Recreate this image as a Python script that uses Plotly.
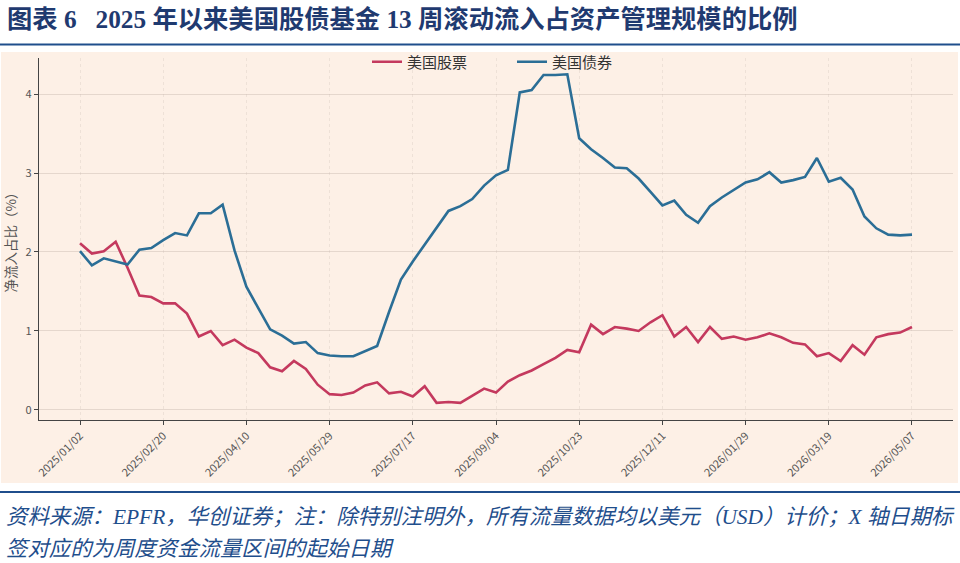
import plotly.graph_objects as go
import pandas as pd

start_date = "2025-01-02"
n_weeks = 71
dates = pd.date_range(start_date, periods=n_weeks, freq="7D")

stocks = [2.11, 1.98, 2.01, 2.13, 1.80, 1.45, 1.43, 1.35, 1.35, 1.22,
          0.93, 1.00, 0.82, 0.89, 0.79, 0.72, 0.54, 0.49, 0.62, 0.52,
          0.32, 0.20, 0.19, 0.22, 0.31, 0.35, 0.21, 0.23, 0.17, 0.30,
          0.09, 0.10, 0.09, 0.18, 0.27, 0.22, 0.36, 0.44, 0.50, 0.58,
          0.66, 0.76, 0.73, 1.08, 0.96, 1.05, 1.03, 1.00, 1.11, 1.20,
          0.93, 1.05, 0.86, 1.05, 0.90, 0.93, 0.89, 0.92, 0.97, 0.92,
          0.85, 0.83, 0.68, 0.72, 0.62, 0.82, 0.70, 0.92, 0.96, 0.98,
          1.05]
bonds = [2.01, 1.83, 1.92, 1.88, 1.84, 2.03, 2.05, 2.15, 2.24, 2.21,
         2.49, 2.49, 2.60, 2.02, 1.56, 1.29, 1.02, 0.94, 0.84, 0.86,
         0.72, 0.69, 0.68, 0.68, 0.75, 0.81, 1.24, 1.65, 1.88, 2.09,
         2.30, 2.52, 2.58, 2.67, 2.84, 2.97, 3.04, 4.02, 4.05, 4.24,
         4.24, 4.25, 3.44, 3.30, 3.19, 3.07, 3.06, 2.93, 2.76, 2.59,
         2.65, 2.47, 2.37, 2.58, 2.69, 2.78, 2.88, 2.92, 3.01, 2.88,
         2.91, 2.95, 3.19, 2.89, 2.94, 2.79, 2.45, 2.30, 2.22, 2.21,
         2.22]

tick_idx = list(range(0, n_weeks, 7))
tick_vals = [dates[i] for i in tick_idx]
tick_text = [d.strftime("%Y/%m/%d") for d in tick_vals]

series_names = ["美国股票", "美国债券"]
colors = ["#C4395E", "#2B6E96"]

title_text = "图表 6   2025 年以来美国股债基金 13 周滚动流入占资产管理规模的比例"
foot1 = "资料来源：EPFR，华创证券；注：除特别注明外，所有流量数据均以美元（USD）计价；X 轴日期标"
foot2 = "签对应的为周度资金流量区间的起始日期"
ytitle = "净流入占比（%）"

W, H = 960, 563
L, R, T, B = 39, 7, 58, 143
pw, ph = W - L - R, H - T - B

def px(x):
    return (x - L) / pw

def py(y):
    return (H - B - y) / ph

fig = go.Figure()
for name, vals, c in zip(series_names, [stocks, bonds], colors):
    fig.add_trace(go.Scatter(x=dates, y=vals, mode="lines", name=name,
                             line=dict(color=c, width=2.6)))

pad = pd.Timedelta(days=7 * 3.45)
peach = "#FDF0E6"

fig.update_layout(
    width=W, height=H,
    margin=dict(l=L, r=R, t=T, b=B),
    paper_bgcolor="white",
    plot_bgcolor=peach,
    font=dict(family="Noto Sans CJK SC, Noto Sans, sans-serif", color="#444"),
    showlegend=True,
    legend=dict(orientation="h", x=px(512), xanchor="center", y=py(62), yanchor="middle",
                bgcolor="rgba(0,0,0,0)", font=dict(size=15, color="#333"),
                entrywidth=100, entrywidthmode="pixels", traceorder="normal"),
    xaxis=dict(range=[dates[0] - pad, dates[-1] + pad],
               tickmode="array", tickvals=tick_vals, ticktext=tick_text,
               tickangle=-45, tickfont=dict(size=11, color="#555"),
               showline=True, linecolor="#444", linewidth=1.3,
               ticks="outside", ticklen=4, tickcolor="#444",
               showgrid=True, gridcolor="rgba(200,185,175,0.28)", griddash="dot",
               zeroline=False),
    yaxis=dict(range=[-0.127, 4.456], tickvals=[0, 1, 2, 3, 4],
               tickfont=dict(size=11, color="#555"),
               showline=True, linecolor="#444", linewidth=1.3,
               ticks="outside", ticklen=4, tickcolor="#444",
               showgrid=True, gridcolor="rgba(200,185,175,0.45)", gridwidth=1,
               zeroline=False,
               title=dict(text=ytitle, font=dict(size=13.5, color="#555"), standoff=8)),
    shapes=[
        dict(type="rect", xref="paper", yref="paper", layer="below",
             x0=px(1), x1=px(958), y0=py(483), y1=py(52),
             fillcolor=peach, line=dict(width=0)),
        dict(type="line", xref="paper", yref="paper",
             x0=px(0), x1=px(960), y0=py(44.5), y1=py(44.5),
             line=dict(color="#1F4E8C", width=2.2)),
        dict(type="line", xref="paper", yref="paper",
             x0=px(0), x1=px(960), y0=py(492), y1=py(492),
             line=dict(color="#1F4E8C", width=2.2)),
    ],
    annotations=[
        dict(text="<b>" + title_text + "</b>", xref="paper", yref="paper",
             x=px(5), y=py(19), xanchor="left", yanchor="middle", showarrow=False,
             font=dict(family="Liberation Serif, Noto Sans CJK SC", size=25.3, color="#1F3A70")),
        dict(text="<i>" + foot1 + "</i>", xref="paper", yref="paper",
             x=px(4), y=py(517), xanchor="left", yanchor="middle", showarrow=False,
             font=dict(family="Liberation Serif, Noto Sans CJK SC", size=21.4, color="#1F4E8C")),
        dict(text="<i>" + foot2 + "</i>", xref="paper", yref="paper",
             x=px(4), y=py(549), xanchor="left", yanchor="middle", showarrow=False,
             font=dict(family="Liberation Serif, Noto Sans CJK SC", size=21.4, color="#1F4E8C")),
    ],
)

fig.write_html("out.html")
